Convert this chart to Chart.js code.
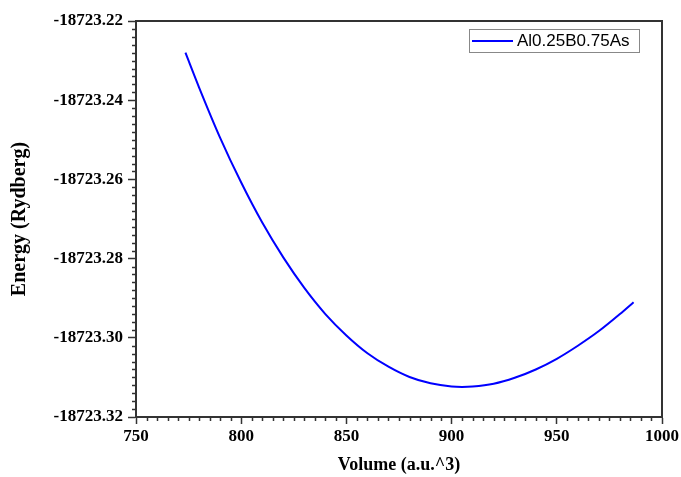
<!DOCTYPE html>
<html>
<head>
<meta charset="utf-8">
<script src="https://cdn.jsdelivr.net/npm/chart.js@4.4.1/dist/chart.umd.min.js"></script>
<style>
  html, body { margin: 0; padding: 0; background: #fff; }
  #chart-container { width: 681px; height: 477px; }
</style>
</head>
<body>
<div id="chart-container"><canvas id="graphCanvas" width="681" height="477"></canvas></div>
<script>
// values
var series_label = "Al0.25B0.75As";
var volume = [773.5, 780, 790, 800, 810, 820, 830, 840, 850, 860, 870, 880,
              890, 900, 905, 910, 920, 930, 940, 950, 960, 970, 980, 986.5];
var energy = [-18723.2280, -18723.2368, -18723.2495, -18723.2608, -18723.2709, -18723.2797,
              -18723.2874, -18723.2940, -18723.2994, -18723.3039, -18723.3073, -18723.3099,
              -18723.3115, -18723.3123, -18723.3124, -18723.3123, -18723.3116, -18723.3101,
              -18723.3080, -18723.3053, -18723.3020, -18723.2983, -18723.2940, -18723.2910];
var x_ticks = [750, 800, 850, 900, 950, 1000];
var y_ticks = [-18723.32, -18723.30, -18723.28, -18723.26, -18723.24, -18723.22];

var points = [];
for (var ii = 0; ii < volume.length; ii++) {
  points.push({x: volume[ii], y: energy[ii]});
}

var serif = "'Liberation Serif', 'Times New Roman', serif";
var tickFont = {family: serif, size: 17, weight: 'bold'};

// frame, minor ticks and the boxed legend
var framePlugin = {
  id: 'frame',
  afterDraw: function(chart) {
    var ctx = chart.ctx;
    var a = chart.chartArea;
    var xs = chart.scales.x, ys = chart.scales.y;
    ctx.save();
    ctx.strokeStyle = '#333';
    ctx.lineWidth = 1.5;
    // minor ticks
    for (var i = 1; i < 50; i++) {
      if (i % 10 == 0) continue;
      var v = x_ticks[0] + i * 5;
      var px = Math.round(xs.getPixelForValue(v)) + 0.5;
      ctx.beginPath(); ctx.moveTo(px, a.bottom); ctx.lineTo(px, a.bottom + 4); ctx.stroke();
      var w = y_ticks[0] + i * 0.002;
      var py = Math.round(ys.getPixelForValue(w)) + 0.5;
      ctx.beginPath(); ctx.moveTo(a.left, py); ctx.lineTo(a.left - 4, py); ctx.stroke();
    }
    // top and right border
    ctx.lineWidth = 2;
    ctx.beginPath();
    ctx.moveTo(a.left, a.top); ctx.lineTo(a.right, a.top); ctx.lineTo(a.right, a.bottom);
    ctx.stroke();
    // legend box
    var ds = chart.data.datasets[0];
    var bx = a.right - 193, by = a.top + 8, bw = 170, bh = 23;
    ctx.lineWidth = 1;
    ctx.strokeStyle = '#888';
    ctx.strokeRect(bx + 0.5, by + 0.5, bw, bh);
    ctx.strokeStyle = ds.borderColor;
    ctx.lineWidth = 2;
    ctx.beginPath(); ctx.moveTo(bx + 3, by + 12); ctx.lineTo(bx + 44, by + 12); ctx.stroke();
    ctx.fillStyle = '#000';
    ctx.font = "17px 'Liberation Sans', Arial, sans-serif";
    ctx.textBaseline = 'middle';
    ctx.fillText(ds.label, bx + 48, by + 12.5);
    ctx.restore();
  }
};

var graphTarget = document.getElementById("graphCanvas");
var energyChart = new Chart(graphTarget, {
  type: 'line',
  data: {
    datasets: [{
      label: series_label,
      data: points,
      borderColor: '#0000ff',
      borderWidth: 2,
      pointRadius: 0,
      fill: false,
      cubicInterpolationMode: 'monotone'
    }]
  },
  options: {
    responsive: false,
    animation: false,
    devicePixelRatio: 1,
    layout: {padding: {top: 21, right: 19, left: 0, bottom: 0}},
    plugins: {legend: {display: false}, tooltip: {enabled: false}},
    scales: {
      x: {
        type: 'linear',
        min: 750, max: 1000,
        afterBuildTicks: function(scale) { scale.ticks = x_ticks.map(function(v) { return {value: v}; }); },
        afterFit: function(scale) { scale.height = 60; },
        grid: {drawOnChartArea: false, tickLength: 7, tickColor: '#333', tickWidth: 1.5},
        border: {color: '#333', width: 2},
        ticks: {
          color: '#000', font: tickFont, padding: 2, maxRotation: 0,
          callback: function(v) { return String(v); }
        },
        title: {display: true, text: 'Volume (a.u.^3)', color: '#000',
                font: {family: serif, size: 18, weight: 'bold'}, padding: {top: 4, bottom: 1}}
      },
      y: {
        type: 'linear',
        min: -18723.32, max: -18723.22,
        afterBuildTicks: function(scale) { scale.ticks = y_ticks.map(function(v) { return {value: v}; }); },
        afterFit: function(scale) { scale.width = 136; },
        grid: {drawOnChartArea: false, tickLength: 8, tickColor: '#333', tickWidth: 1.5},
        border: {color: '#333', width: 2},
        ticks: {
          color: '#000', font: tickFont, padding: 5,
          callback: function(v) { return v.toFixed(2); }
        },
        title: {display: true, text: 'Energy (Rydberg)', color: '#000',
                font: {family: serif, size: 20, weight: 'bold'}, padding: {top: 8, bottom: 4}}
      }
    }
  },
  plugins: [framePlugin]
});
</script>
</body>
</html>
